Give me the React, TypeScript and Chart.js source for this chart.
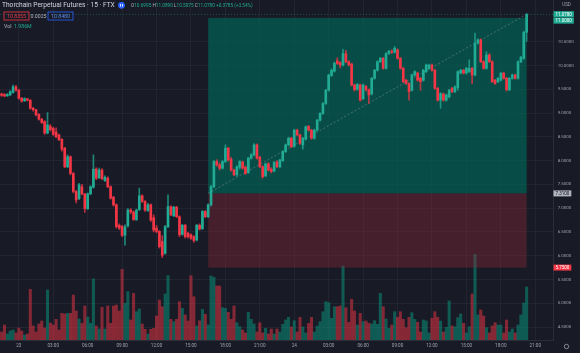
import React, { useEffect, useRef } from "react";
import { Chart, registerables } from "chart.js";

Chart.register(...registerables);

const FONT = "Roboto, 'Liberation Sans', sans-serif";
const BG = "#181b26";
const UP = "#22ab94";
const DOWN = "#f23645";
const GRID = "#222531";
const TICK = "#a0a3ad";

// 15-minute bars, bar 0 = 22 Dec 22:30
const opens = [
  9.40, 9.39, 9.36, 9.38, 9.43, 9.55, 9.48, 9.31, 9.26, 9.30,
  9.27, 9.10, 9.07, 8.97, 8.87, 8.82, 8.58, 8.72, 8.68, 8.60,
  8.54, 8.45, 8.26, 7.87, 8.08, 7.73, 7.35, 7.20, 7.45, 7.30,
  6.99, 7.30, 7.44, 7.82, 7.64, 7.80, 7.58, 7.63, 7.45, 7.23,
  7.07, 6.64, 6.61, 6.43, 6.63, 6.96, 6.92, 6.76, 6.97, 7.26,
  7.14, 6.95, 7.07, 6.80, 6.58, 6.51, 6.30, 6.05, 6.61, 7.03,
  6.84, 7.02, 6.82, 6.45, 6.64, 6.47, 6.44, 6.40, 6.33, 6.64,
  6.57, 6.93, 6.82, 7.07, 7.45, 7.98, 7.91, 7.84, 7.98, 8.26,
  8.03, 7.80, 7.70, 7.86, 7.97, 7.86, 7.75, 8.05, 8.12, 8.33,
  8.07, 7.87, 7.68, 7.93, 7.82, 7.78, 7.97, 7.87, 8.00, 8.19,
  8.33, 8.47, 8.30, 8.64, 8.54, 8.33, 8.45, 8.72, 8.64, 8.47,
  8.64, 8.85, 8.99, 9.20, 9.48, 9.79, 9.88, 10.10, 10.06, 10.01,
  10.25, 10.08, 10.03, 9.59, 9.50, 9.59, 9.30, 9.56, 9.49, 9.40,
  9.73, 9.90, 10.08, 10.15, 9.94, 10.25, 10.30, 10.28, 10.33, 10.15,
  9.94, 9.69, 9.62, 9.48, 9.80, 9.84, 9.73, 9.69, 9.87, 9.94,
  10.01, 9.90, 9.52, 9.27, 9.40, 9.27, 9.34, 9.52, 9.45, 9.53,
  9.84, 9.90, 9.84, 9.87, 9.94, 9.80, 10.47, 10.54, 10.08, 9.94,
  10.22, 10.08, 9.69, 9.66, 9.69, 9.84, 9.73, 9.49, 9.73, 9.80,
  9.73, 10.08, 10.15, 10.6995,
];
const highs = [
  9.42, 9.41, 9.41, 9.47, 9.59, 9.58, 9.50, 9.33, 9.32, 9.31,
  9.28, 9.12, 9.08, 8.99, 8.89, 8.84, 9.01, 8.76, 8.70, 8.69,
  8.56, 8.46, 8.28, 8.12, 8.10, 7.75, 7.37, 7.52, 7.50, 7.31,
  7.32, 7.47, 8.12, 7.85, 7.84, 7.83, 7.68, 7.66, 7.47, 7.25,
  7.09, 6.67, 6.64, 6.65, 6.99, 6.99, 6.94, 6.98, 7.42, 7.28,
  7.16, 7.10, 7.09, 6.86, 6.64, 6.53, 6.42, 6.64, 7.28, 7.05,
  7.04, 7.04, 6.84, 6.66, 6.66, 6.49, 6.46, 6.42, 6.66, 6.67,
  6.95, 6.95, 7.09, 7.48, 8.00, 8.02, 7.95, 8.00, 8.33, 8.28,
  8.07, 7.82, 7.89, 8.00, 7.99, 7.89, 8.07, 8.15, 8.36, 8.35,
  8.09, 7.89, 7.95, 7.96, 7.85, 7.98, 8.00, 8.03, 8.21, 8.35,
  8.49, 8.49, 8.66, 8.66, 8.56, 8.49, 8.73, 8.74, 8.66, 8.66,
  8.87, 9.01, 9.22, 9.50, 9.82, 9.93, 10.07, 10.16, 10.08, 10.34,
  10.32, 10.10, 10.05, 9.61, 9.62, 9.61, 9.61, 9.58, 9.51, 9.75,
  9.92, 10.10, 10.17, 10.17, 10.27, 10.32, 10.33, 10.40, 10.35, 10.17,
  9.96, 9.71, 9.64, 9.82, 9.89, 9.86, 9.75, 9.92, 10.03, 10.03,
  10.03, 9.92, 9.54, 9.43, 9.42, 9.40, 9.50, 9.54, 9.57, 9.89,
  9.92, 9.92, 9.96, 10.12, 9.96, 10.68, 10.56, 10.56, 10.10, 10.29,
  10.25, 10.10, 9.71, 9.75, 9.85, 9.86, 9.75, 9.75, 9.82, 9.82,
  10.10, 10.19, 10.72, 11.089,
];
const lows = [
  9.35, 9.34, 9.35, 9.37, 9.42, 9.46, 9.29, 9.23, 9.24, 9.25,
  9.08, 9.04, 8.94, 8.85, 8.78, 8.55, 8.56, 8.62, 8.53, 8.48,
  8.42, 8.20, 7.85, 7.85, 7.70, 7.32, 7.11, 7.18, 7.28, 6.91,
  6.97, 7.28, 7.42, 7.60, 7.62, 7.60, 7.56, 7.43, 7.19, 7.04,
  6.58, 6.55, 6.40, 6.22, 6.60, 6.88, 6.74, 6.74, 6.95, 7.12,
  6.93, 6.93, 6.72, 6.50, 6.48, 6.16, 5.96, 6.03, 6.59, 6.84,
  6.82, 6.80, 6.40, 6.43, 6.37, 6.37, 6.34, 6.28, 6.31, 6.54,
  6.55, 6.80, 6.80, 7.04, 7.43, 7.88, 7.80, 7.82, 7.96, 7.99,
  7.78, 7.68, 7.67, 7.82, 7.82, 7.71, 7.73, 8.03, 8.10, 8.03,
  7.85, 7.63, 7.66, 7.78, 7.74, 7.76, 7.85, 7.85, 7.98, 8.17,
  8.31, 8.27, 8.28, 8.52, 8.34, 8.24, 8.43, 8.62, 8.45, 8.45,
  8.62, 8.83, 8.97, 9.18, 9.46, 9.77, 9.86, 10.02, 9.95, 9.99,
  10.06, 9.99, 9.57, 9.46, 9.48, 9.25, 9.28, 9.46, 9.20, 9.38,
  9.71, 9.88, 10.06, 9.92, 9.92, 10.23, 10.25, 10.26, 10.13, 9.92,
  9.64, 9.60, 9.27, 9.46, 9.78, 9.67, 9.48, 9.67, 9.85, 9.92,
  9.88, 9.50, 9.25, 9.10, 9.25, 9.25, 9.32, 9.43, 9.43, 9.48,
  9.82, 9.82, 9.82, 9.85, 9.62, 9.78, 10.45, 10.06, 9.92, 9.92,
  10.06, 9.64, 9.60, 9.64, 9.67, 9.71, 9.46, 9.47, 9.71, 9.71,
  9.71, 10.06, 10.13, 10.5075,
];
const closes = [
  9.37, 9.36, 9.39, 9.45, 9.55, 9.48, 9.31, 9.25, 9.30, 9.27,
  9.10, 9.07, 8.96, 8.87, 8.80, 8.58, 8.75, 8.65, 8.55, 8.50,
  8.44, 8.24, 7.87, 8.08, 7.73, 7.35, 7.17, 7.49, 7.30, 6.99,
  7.30, 7.45, 7.82, 7.63, 7.80, 7.62, 7.65, 7.45, 7.21, 7.07,
  6.61, 6.58, 6.43, 6.61, 6.96, 6.92, 6.76, 6.96, 7.26, 7.14,
  6.96, 7.07, 6.75, 6.54, 6.51, 6.19, 6.01, 6.61, 7.03, 6.86,
  7.02, 6.82, 6.44, 6.64, 6.40, 6.40, 6.37, 6.32, 6.64, 6.56,
  6.93, 6.82, 7.07, 7.45, 7.98, 7.91, 7.84, 7.98, 8.26, 8.01,
  7.80, 7.70, 7.87, 7.98, 7.84, 7.73, 8.05, 8.12, 8.33, 8.05,
  7.87, 7.66, 7.93, 7.80, 7.77, 7.96, 7.87, 8.01, 8.19, 8.33,
  8.47, 8.29, 8.64, 8.54, 8.36, 8.47, 8.71, 8.64, 8.47, 8.64,
  8.85, 8.99, 9.20, 9.48, 9.80, 9.90, 10.05, 10.04, 10.01, 10.25,
  10.08, 10.01, 9.59, 9.49, 9.60, 9.27, 9.59, 9.49, 9.38, 9.73,
  9.90, 10.08, 10.15, 9.94, 10.25, 10.30, 10.28, 10.36, 10.15, 9.94,
  9.66, 9.62, 9.45, 9.80, 9.87, 9.69, 9.66, 9.90, 10.01, 10.01,
  9.90, 9.52, 9.27, 9.41, 9.27, 9.38, 9.48, 9.45, 9.55, 9.87,
  9.90, 9.84, 9.94, 9.94, 9.80, 10.47, 10.54, 10.08, 9.94, 10.22,
  10.08, 9.66, 9.62, 9.73, 9.84, 9.73, 9.49, 9.73, 9.80, 9.73,
  10.08, 10.17, 10.70, 11.078,
];
// volume in thousands
const volumes = [
  80, 150, 60, 90, 100, 70, 120, 90, 50, 60,
  507, 140, 80, 160, 190, 120, 500, 170, 150, 207,
  100, 267, 260, 267, 267, 450, 290, 210, 167, 340,
  230, 167, 610, 140, 110, 327, 110, 340, 167, 340,
  350, 290, 707, 367, 483, 200, 467, 283, 310, 160,
  107, 60, 107, 117, 240, 400, 333, 460, 643, 207,
  183, 207, 383, 317, 250, 190, 643, 433, 140, 193,
  307, 257, 150, 640, 627, 540, 540, 323, 317, 277,
  207, 340, 173, 133, 100, 70, 277, 207, 160, 80,
  173, 70, 117, 60, 110, 60, 110, 80, 157, 200,
  227, 130, 193, 80, 227, 130, 70, 167, 227, 80,
  140, 183, 283, 383, 373, 217, 333, 333, 340, 740,
  323, 177, 407, 290, 150, 267, 183, 190, 167, 160,
  193, 157, 467, 333, 210, 117, 150, 283, 227, 283,
  207, 123, 227, 273, 207, 177, 80, 200, 190, 70,
  217, 283, 227, 190, 80, 127, 390, 140, 133, 223,
  260, 167, 70, 133, 460, 857, 250, 300, 240, 123,
  70, 140, 173, 150, 150, 70, 200, 80, 110, 70,
  150, 250, 370, 530,
];

const timeTickBars = [6, 18, 30, 42, 54, 66, 78, 90, 102, 114, 126, 138, 150, 162, 174, 186];
const timeTickLabels = ["23", "03:00", "06:00", "09:00", "12:00", "15:00", "18:00", "21:00", "24", "03:00", "06:00", "09:00", "12:00", "15:00", "18:00", "21:00"];
const priceTicks = [4.5, 5.0, 5.5, 6.0, 6.5, 7.0, 7.5, 8.0, 8.5, 9.0, 9.5, 10.0, 10.5];

const entryPrice = 7.31;
const targetPrice = 11.0;
const stopPrice = 5.75;
const positionStartBar = 72;
const positionEndBar = 183;

const titleText = "Thorchain Perpetual Futures · 15 · FTX";
const ohlcParts = [
  ["O", "10.6995"],
  ["H", "11.0890"],
  ["L", "10.5075"],
  ["C", "11.0780"],
];
const changeText = "+0.3785 (+3.54%)";
const bidText = "10.8355";
const spreadText = "0.0025";
const askText = "10.8480";
const volText = "1.986M";

function fitSize(ctx: CanvasRenderingContext2D, text: string, width: number) {
  ctx.font = `20px ${FONT}`;
  const w = ctx.measureText(text).width;
  return (20 * width) / w;
}

function axisBox(ctx: CanvasRenderingContext2D, x: number, yc: number, text: string, bg: string, fg: string) {
  ctx.font = `4.5px ${FONT}`;
  const w = ctx.measureText(text).width + 4;
  ctx.fillStyle = bg;
  ctx.fillRect(x, yc - 3, w, 6);
  ctx.fillStyle = fg;
  ctx.textAlign = "left";
  ctx.textBaseline = "middle";
  ctx.fillText(text, x + 2, yc + 0.2);
}

const overlayPlugin = {
  id: "tvOverlay",
  beforeDraw(chart: any) {
    const ctx = chart.ctx;
    ctx.save();
    ctx.fillStyle = BG;
    ctx.fillRect(0, 0, chart.width, chart.height);
    ctx.restore();
  },
  afterDatasetDraw(chart: any, args: any) {
    if (args.index !== 0) return;
    const { ctx, chartArea } = chart;
    const x = chart.scales.x;
    const y = chart.scales.y;
    const x0 = x.getPixelForValue(positionStartBar);
    const x1 = x.getPixelForValue(positionEndBar);
    const yT = y.getPixelForValue(targetPrice);
    const yE = y.getPixelForValue(entryPrice);
    const yS = y.getPixelForValue(stopPrice);
    ctx.save();
    ctx.beginPath();
    ctx.rect(chartArea.left, chartArea.top, chartArea.right - chartArea.left, chartArea.bottom - chartArea.top);
    ctx.clip();
    ctx.fillStyle = "rgba(0,100,86,0.68)";
    ctx.fillRect(x0, yT, x1 - x0, yE - yT);
    ctx.fillStyle = "rgba(150,40,55,0.36)";
    ctx.fillRect(x0, yE, x1 - x0, yS - yE);
    const last = closes.length - 1;
    ctx.setLineDash([2, 2]);
    ctx.strokeStyle = "rgba(165,170,180,0.5)";
    ctx.lineWidth = 0.8;
    ctx.beginPath();
    ctx.moveTo(x0, yE);
    ctx.lineTo(x.getPixelForValue(last), y.getPixelForValue(closes[last]));
    ctx.stroke();
    ctx.restore();
  },
  afterDraw(chart: any) {
    const { ctx, chartArea } = chart;
    const y = chart.scales.y;
    const last = closes.length - 1;
    ctx.save();
    // last price line
    ctx.setLineDash([1, 2]);
    ctx.strokeStyle = "rgba(34,171,148,0.45)";
    ctx.lineWidth = 0.8;
    const yl = Math.round(y.getPixelForValue(closes[last])) + 0.5;
    ctx.beginPath();
    ctx.moveTo(chartArea.left, yl);
    ctx.lineTo(chartArea.right, yl);
    ctx.stroke();
    ctx.setLineDash([]);

    // title row
    ctx.textBaseline = "middle";
    ctx.textAlign = "left";
    let s = fitSize(ctx, titleText, 113);
    ctx.font = `${s}px ${FONT}`;
    ctx.fillStyle = "#d1d4dc";
    ctx.fillText(titleText, 2, 5.5);

    ctx.fillStyle = "#2962ff";
    ctx.beginPath();
    ctx.arc(121.5, 5.3, 3.4, 0, Math.PI * 2);
    ctx.fill();
    ctx.fillStyle = "#ffffff";
    ctx.fillRect(120.2, 4, 0.8, 2.6);
    ctx.fillRect(122.0, 4, 0.8, 2.6);

    const full = ohlcParts.map((p) => p[0] + p[1]).join(" ") + " " + changeText;
    s = fitSize(ctx, full, 122);
    ctx.font = `${s}px ${FONT}`;
    let cx = 131;
    const space = ctx.measureText(" ").width;
    for (const [k, v] of ohlcParts) {
      ctx.fillStyle = "#b2b5be";
      ctx.fillText(k, cx, 5.5);
      cx += ctx.measureText(k).width;
      ctx.fillStyle = UP;
      ctx.fillText(v, cx, 5.5);
      cx += ctx.measureText(v).width + space;
    }
    ctx.fillStyle = UP;
    ctx.fillText(changeText, cx, 5.5);

    // bid / ask row
    ctx.lineWidth = 0.8;
    ctx.strokeStyle = DOWN;
    ctx.strokeRect(4, 12, 25, 8);
    ctx.strokeStyle = "#2962ff";
    ctx.strokeRect(48, 12, 25, 8);
    s = fitSize(ctx, bidText, 19);
    ctx.font = `${s}px ${FONT}`;
    ctx.textAlign = "center";
    ctx.fillStyle = DOWN;
    ctx.fillText(bidText, 16.5, 16.2);
    ctx.fillStyle = "#5b8def";
    ctx.fillText(askText, 60.5, 16.2);
    ctx.fillStyle = "#b2b5be";
    ctx.fillText(spreadText, 38.5, 16.2);

    // volume row
    ctx.textAlign = "left";
    ctx.fillStyle = "#b2b5be";
    ctx.fillText("Vol", 4, 26.8);
    ctx.fillStyle = UP;
    ctx.fillText(volText, 14, 26.8);

    // axis labels
    ctx.font = `4.5px ${FONT}`;
    ctx.fillStyle = TICK;
    ctx.textAlign = "center";
    ctx.fillText("USD", 566.5, 4.5);

    const ax = chartArea.right + 0.5;
    axisBox(ctx, ax, y.getPixelForValue(closes[last]), closes[last].toFixed(4), UP, "#ffffff");
    axisBox(ctx, ax, y.getPixelForValue(targetPrice) + 2.7, targetPrice.toFixed(4), UP, "#ffffff");
    axisBox(ctx, ax, y.getPixelForValue(entryPrice), entryPrice.toFixed(4), "#b2b5be", "#131722");
    axisBox(ctx, ax, y.getPixelForValue(stopPrice), stopPrice.toFixed(4), DOWN, "#ffffff");

    // settings icon
    ctx.strokeStyle = TICK;
    ctx.lineWidth = 0.8;
    ctx.beginPath();
    ctx.arc(566.5, 346.5, 2.2, 0, Math.PI * 2);
    ctx.stroke();
    ctx.restore();
  },
};

export default function App() {
  const ref = useRef<HTMLCanvasElement>(null);
  useEffect(() => {
    const canvas = ref.current;
    if (!canvas) return;
    const idx = closes.map((_, i) => i);
    const upDown = idx.map((i) => closes[i] >= opens[i]);
    const chart = new Chart(canvas, {
      type: "bar",
      data: {
        datasets: [
          {
            label: "Volume",
            yAxisID: "yv",
            data: idx.map((i) => ({ x: i, y: volumes[i] })),
            backgroundColor: upDown.map((u) => (u ? "rgba(8,153,129,0.5)" : "rgba(242,54,69,0.5)")),
            barThickness: 2.4,
            grouped: false,
            order: 3,
          },
          {
            label: "Wick",
            yAxisID: "y",
            data: idx.map((i) => ({ x: i, y: [lows[i], highs[i]] })),
            backgroundColor: upDown.map((u) => (u ? "rgba(34,171,148,0.75)" : "rgba(242,54,69,0.75)")),
            barThickness: 1,
            grouped: false,
            order: 2,
          },
          {
            label: "Body",
            yAxisID: "y",
            data: idx.map((i) => ({ x: i, y: [opens[i], closes[i]] })),
            backgroundColor: upDown.map((u) => (u ? UP : DOWN)),
            barThickness: 2,
            minBarLength: 1,
            grouped: false,
            order: 1,
          },
        ] as any,
      },
      options: {
        responsive: false,
        devicePixelRatio: 1,
        animation: false,
        layout: { padding: 0 },
        plugins: { legend: { display: false }, tooltip: { enabled: false }, title: { display: false } },
        scales: {
          x: {
            type: "linear",
            min: -0.558,
            max: 192.19,
            offset: false,
            position: "bottom",
            grid: { color: GRID, drawTicks: false, offset: false, lineWidth: 1 },
            border: { display: true, color: "#2a2e39" },
            ticks: {
              autoSkip: false,
              maxRotation: 0,
              padding: 3.5,
              color: TICK,
              font: { size: 4.6, family: FONT },
              callback: (v: any) => {
                const k = timeTickBars.indexOf(Math.round(Number(v)));
                return k >= 0 ? timeTickLabels[k] : "";
              },
            },
            afterBuildTicks: (scale: any) => {
              scale.ticks = timeTickBars.map((v) => ({ value: v }));
            },
            afterFit: (scale: any) => {
              scale.height = 13;
              scale.paddingLeft = 0;
              scale.paddingRight = 0;
              scale.paddingTop = 0;
              scale.paddingBottom = 0;
            },
          },
          y: {
            type: "linear",
            position: "right",
            min: 4.227,
            max: 11.377,
            grid: { color: GRID, drawTicks: false, lineWidth: 1 },
            border: { display: true, color: "#2a2e39" },
            ticks: {
              padding: 4.7,
              color: TICK,
              font: { size: 4.4, family: FONT },
              callback: (v: any) => Number(v).toFixed(4),
            },
            afterBuildTicks: (scale: any) => {
              scale.ticks = priceTicks.map((v) => ({ value: v }));
            },
            afterFit: (scale: any) => {
              scale.width = 27;
              scale.paddingTop = 0;
              scale.paddingBottom = 0;
              scale.paddingLeft = 0;
              scale.paddingRight = 0;
            },
          },
          yv: {
            type: "linear",
            display: false,
            min: 0,
            max: 3400,
          },
        },
      } as any,
      plugins: [overlayPlugin as any],
    });
    return () => chart.destroy();
  }, []);
  return (
    <div style={{ position: "fixed", left: 0, top: 0, width: 580, height: 353, background: BG }}>
      <canvas ref={ref} width={580} height={353} style={{ display: "block", width: 580, height: 353 }} />
    </div>
  );
}
